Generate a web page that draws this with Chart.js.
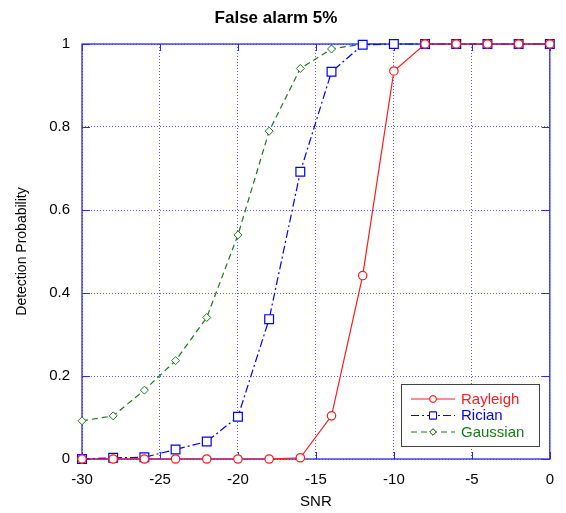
<!DOCTYPE html>
<html>
<head>
<meta charset="utf-8">
<script src="https://cdn.jsdelivr.net/npm/chart.js@4.4.0/dist/chart.umd.min.js"></script>
<style>
  html, body { margin: 0; padding: 0; background: #fff; }
  #wrap { width: 566px; height: 513px; }
</style>
</head>
<body>
<div id="wrap"><canvas id="chart"></canvas></div>
<script>
// --- DATA ---
const snr = [-30, -28, -26, -24, -22, -20, -18, -16, -14, -12, -10, -8, -6, -4, -2, 0];
const rayleigh = [0, 0, 0, 0, 0, 0, 0, 0.003, 0.104, 0.442, 0.935, 1, 1, 1, 1, 1];
const rician = [0, 0.003, 0.004, 0.023, 0.042, 0.102, 0.337, 0.692, 0.933, 0.998, 1, 1, 1, 1, 1, 1];
const gaussian = [0.092, 0.104, 0.166, 0.237, 0.341, 0.54, 0.79, 0.941, 0.988, 1, 1, 1, 1, 1, 1, 1];
const xTicks = [-30, -25, -20, -15, -10, -5, 0];
const yTicks = [0, 0.2, 0.4, 0.6, 0.8, 1];
const seriesNames = ['Rayleigh', 'Rician', 'Gaussian'];

// --- STYLE ---
const RED = '#ff1a1a';
const BLUE = '#0000ff';
const GREEN = '#1a7a1a';
const AXIS_BLUE = '#2a2aee';
const GRID_BLUE = '#5a5aff';
const FONT = 'Arial, "Liberation Sans", sans-serif';

const toXY = ys => snr.map((x, i) => ({ x: x, y: ys[i] }));

// box around plot + inward tick marks
const boxPlugin = {
    id: 'box',
    beforeDatasetsDraw(chart) {
        const { ctx, chartArea: a, scales } = chart;
        ctx.save();
        ctx.strokeStyle = AXIS_BLUE;
        ctx.lineWidth = 1.3;
        ctx.strokeRect(a.left, a.top, a.right - a.left, a.bottom - a.top);
        ctx.lineWidth = 1;
        ctx.beginPath();
        xTicks.forEach(v => {
            const px = Math.round(scales.x.getPixelForValue(v)) + 0.5;
            ctx.moveTo(px, a.bottom); ctx.lineTo(px, a.bottom - 7);
            ctx.moveTo(px, a.top); ctx.lineTo(px, a.top + 7);
        });
        yTicks.forEach(v => {
            const py = Math.round(scales.y.getPixelForValue(v)) + 0.5;
            ctx.moveTo(a.left, py); ctx.lineTo(a.left + 8, py);
            ctx.moveTo(a.right, py); ctx.lineTo(a.right - 8, py);
        });
        ctx.stroke();
        ctx.restore();
    }
};

// legend drawn in the lower right corner of the plot
const legendPlugin = {
    id: 'boxLegend',
    afterDraw(chart) {
        const { ctx } = chart;
        const x0 = 401, y0 = 384, w = 138, h = 62;
        ctx.save();
        ctx.fillStyle = '#fff';
        ctx.fillRect(x0, y0, w, h);
        ctx.strokeStyle = '#404040';
        ctx.lineWidth = 1;
        ctx.strokeRect(x0 + 0.5, y0 + 0.5, w, h);
        chart.data.datasets.forEach((ds, i) => {
            const y = y0 + 15 + i * 16.5;
            ctx.strokeStyle = ds.borderColor;
            ctx.lineWidth = 1;
            ctx.setLineDash(ds.borderDash || []);
            ctx.beginPath();
            ctx.moveTo(x0 + 10, y); ctx.lineTo(x0 + 54, y);
            ctx.stroke();
            ctx.setLineDash([]);
            ctx.fillStyle = '#fff';
            Chart.helpers.drawPoint(ctx, {
                pointStyle: ds.pointStyle, radius: ds.pointRadius * 0.8, borderWidth: 1, rotation: 0
            }, x0 + 32, y);
            ctx.fill();
            ctx.stroke();
            ctx.fillStyle = ds.borderColor;
            ctx.font = '15px ' + FONT;
            ctx.textBaseline = 'middle';
            ctx.fillText(ds.label, x0 + 60, y + 0.5);
        });
        ctx.restore();
    }
};

const ctx = document.getElementById('chart').getContext('2d');
const chart = new Chart(ctx, {
    type: 'line',
    data: {
        datasets: [{
            label: seriesNames[0],
            data: toXY(rayleigh),
            borderColor: RED,
            borderWidth: 1.2,
            pointStyle: 'circle',
            pointRadius: 4.2,
            pointBackgroundColor: '#fff',
            pointBorderColor: RED,
            pointBorderWidth: 1.2
        }, {
            label: seriesNames[1],
            data: toXY(rician),
            borderColor: BLUE,
            borderWidth: 1.2,
            borderDash: [8, 3, 2, 3],
            pointStyle: 'rect',
            pointRadius: 6.2,
            pointBackgroundColor: '#fff',
            pointBorderColor: BLUE,
            pointBorderWidth: 1.2
        }, {
            label: seriesNames[2],
            data: toXY(gaussian),
            borderColor: GREEN,
            borderWidth: 1.2,
            borderDash: [6, 4],
            pointStyle: 'rectRot',
            pointRadius: 4,
            pointBackgroundColor: '#fff',
            pointBorderColor: GREEN,
            pointBorderWidth: 1
        }]
    },
    options: {
        responsive: true,
        maintainAspectRatio: false,
        animation: false,
        clip: false,
        layout: { padding: { left: 0, right: 14, top: 0, bottom: 0 } },
        plugins: {
            legend: { display: false },
            tooltip: { enabled: false },
            title: {
                display: true,
                text: 'False alarm 5%',
                color: '#000',
                font: { family: FONT, size: 17, weight: 'bold' },
                padding: { top: 8, bottom: 15.6 }
            }
        },
        scales: {
            x: {
                type: 'linear',
                min: -30, max: 0,
                afterBuildTicks: s => { s.ticks = xTicks.map(v => ({ value: v })); },
                afterFit: s => { s.height = 54; },
                ticks: { color: '#000', font: { family: FONT, size: 15 }, padding: 12, maxRotation: 0 },
                grid: { color: GRID_BLUE, lineWidth: 1, drawTicks: false },
                border: { display: false, dash: [1, 2] },
                title: {
                    display: true, text: 'SNR', color: '#000',
                    font: { family: FONT, size: 15 }, padding: { top: 0, bottom: 2 }
                }
            },
            y: {
                min: 0, max: 1,
                afterBuildTicks: s => { s.ticks = yTicks.map(v => ({ value: v })); },
                afterFit: s => { s.width = 82; },
                ticks: {
                    color: '#000', font: { family: FONT, size: 15 }, padding: 12,
                    callback: v => String(Math.round(v * 10) / 10)
                },
                grid: { color: GRID_BLUE, lineWidth: 1, drawTicks: false },
                border: { display: false, dash: [1, 2] },
                title: {
                    display: true, text: 'Detection Probability', color: '#000',
                    font: { family: FONT, size: 14 }, padding: { top: 13.6, bottom: 0 }
                }
            }
        }
    },
    plugins: [boxPlugin, legendPlugin]
});
</script>
</body>
</html>
